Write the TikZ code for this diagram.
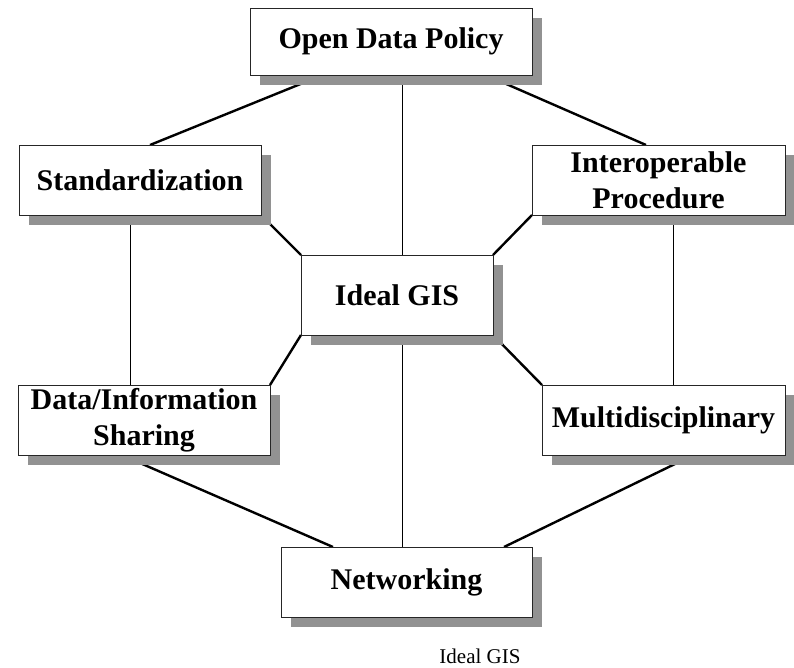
\documentclass[tikz,border=0pt]{standalone}
\usepackage{fontspec}
\setmainfont{Liberation Serif}
\usetikzlibrary{shadows}
\usetikzlibrary{backgrounds}

\definecolor{shadowgray}{RGB}{146,146,146}

\begin{document}
\begin{tikzpicture}[x=1pt, y=-1pt,
    box/.style={draw=black!85, line width=0.9pt, fill=white, inner sep=0pt, outer sep=0pt,
      align=center, font=\fontsize{30}{36}\selectfont\bfseries,
      drop shadow={shadow xshift=10pt, shadow yshift=-10pt, fill=shadowgray, opacity=1}},
    link/.style={line width=2.4pt},
    thin link/.style={line width=0.9pt}]
          \useasboundingbox (0,0) rectangle (794,668);

          \node[box, minimum width=282pt, minimum height=67pt] (odp) at (391,41.5) {Open Data Policy};
          \node[box, minimum width=242pt, minimum height=70pt] (std) at (140,180) {Standardization};
          \node[box, minimum width=253pt, minimum height=70pt] (interop) at (658.5,180) {Interoperable\\Procedure};
          \node[box, minimum width=192pt, minimum height=80pt] (ideal) at (397,295) {Ideal GIS};
          \node[box, minimum width=252pt, minimum height=70pt] (share) at (144,420) {Data/Information\\Sharing};
          \node[box, minimum width=243pt, minimum height=70pt] (multi) at (663.5,420) {Multidisciplinary};
          \node[box, minimum width=251pt, minimum height=70pt] (net) at (406.5,582) {Networking};

          \node[anchor=base, font=\fontsize{21}{24}\selectfont] (caption) at (480,663) {Ideal GIS};

          \begin{scope}[on background layer]
          % outer ring
          \draw[link] ([shift={(-88pt,-8pt)}]odp.south) -- ([xshift=10pt]std.north);
          \draw[link] ([shift={(113pt,-8pt)}]odp.south) -- ([xshift=-12.5pt]interop.north);
          \draw[link] ([shift={(-4pt,-8pt)}]share.south) -- ([xshift=-73.5pt]net.north);
          \draw[link] ([shift={(13.5pt,-8pt)}]multi.south) -- ([xshift=97.5pt]net.north);
          \draw[thin link] ([xshift=-10pt]std.south) -- ([xshift=-10pt]std.south |- share.north);
          \draw[thin link] ([xshift=14.5pt]interop.south) -- ([xshift=14.5pt]interop.south |- multi.north);

          % spokes to the centre
          \draw[thin link] ([xshift=11pt]odp.south) -- ([xshift=11pt]odp.south |- ideal.north);
          \draw[thin link] ([xshift=5pt]ideal.south) -- ([xshift=5pt]ideal.south |- net.north);
          \draw[link] (std.south east) -- (ideal.north west);
          \draw[link] (interop.south west) -- (ideal.north east);
          \draw[link] (ideal.south west) -- (share.north east);
          \draw[link] (ideal.south east) -- (multi.north west);
          \end{scope}
        \end{tikzpicture}
\end{document}
